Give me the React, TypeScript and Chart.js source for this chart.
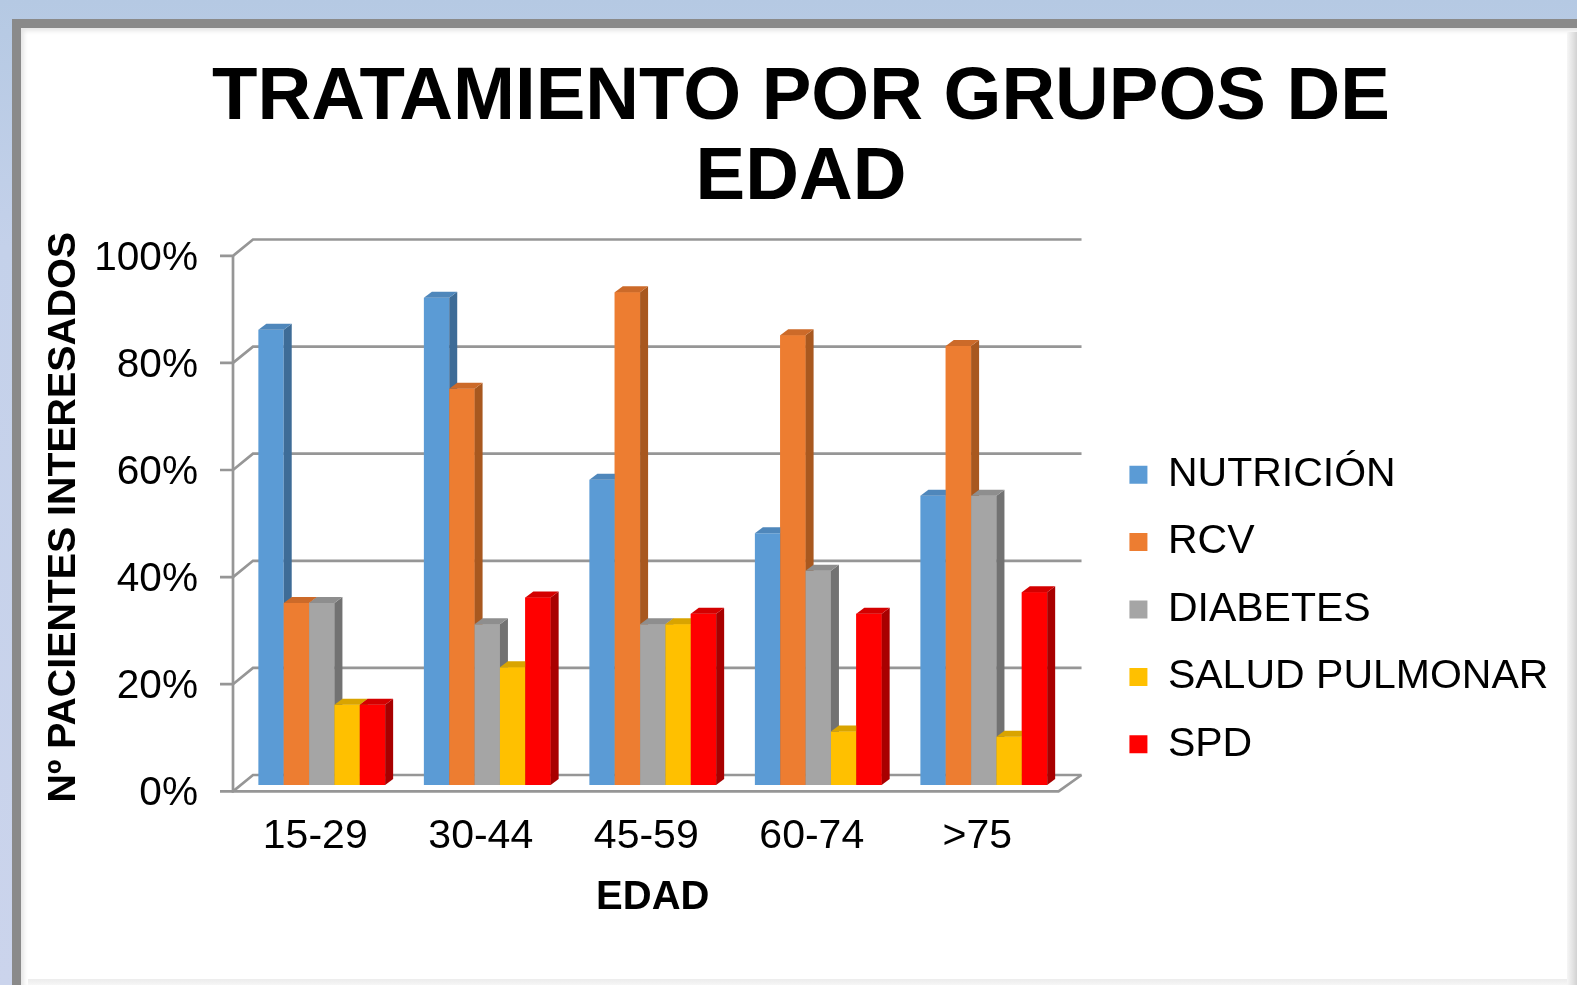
import React, { useEffect, useRef } from 'react';
import { Chart, registerables } from 'chart.js';

Chart.register(...registerables);

// ---------- data ----------
const categories = ['15-29', '30-44', '45-59', '60-74', '>75'];
const seriesNames = ['NUTRICIÓN', 'RCV', 'DIABETES', 'SALUD PULMONAR', 'SPD'];
const nutricion = [85, 91, 57, 47, 54];
const rcv = [34, 74, 92, 84, 82];
const diabetes = [34, 30, 30, 40, 54];
const saludPulmonar = [15, 22, 30, 10, 9];
const spd = [15, 35, 32, 32, 36];
const yTicks = [0, 20, 40, 60, 80, 100];
const titleLines = ['TRATAMIENTO POR GRUPOS DE', 'EDAD'];
const yTitle = 'Nº PACIENTES INTERESADOS';
const xTitle = 'EDAD';

// ---------- styles ----------
const FONT = '"Liberation Sans", Arial, sans-serif';
const FRONT = ['#5B9BD5', '#ED7D31', '#A5A5A5', '#FFC000', '#FF0000'];
const SIDE = ['#3E6C97', '#A8581F', '#727272', '#B38700', '#A80000'];
const TOP = ['#4F87BB', '#CC6A29', '#8E8E8E', '#D9A400', '#D40000'];
const DX = 8;
const DY = -6;

const box3d = {
  id: 'box3d',
  beforeDatasetsDraw(chart: any) {
    const { ctx, chartArea: a, scales } = chart;
    const y = scales.y;
    const fL = a.left - 6;
    const fR = a.right - 8;
    const bL = a.left + 14;
    const bR = a.right + 15;
    ctx.save();
    ctx.strokeStyle = '#969696';
    ctx.lineWidth = 2.7;
    ctx.lineJoin = 'miter';
    for (const v of yTicks) {
      const p = y.getPixelForValue(v);
      const yf = p + 6.3;
      const yb = p - 10;
      ctx.beginPath();
      ctx.moveTo(fL - 13, yf);
      ctx.lineTo(fL, yf);
      ctx.lineTo(bL, yb);
      ctx.lineTo(bR, yb);
      ctx.stroke();
    }
    const yf0 = y.getPixelForValue(0) + 6.3;
    const yf100 = y.getPixelForValue(100) + 6.3;
    const yb0 = y.getPixelForValue(0) - 10;
    ctx.beginPath();
    ctx.moveTo(fL, yf100);
    ctx.lineTo(fL, yf0);
    ctx.lineTo(fR, yf0);
    ctx.lineTo(bR, yb0);
    ctx.stroke();
    ctx.restore();
  },
  afterDatasetsDraw(chart: any) {
    const { ctx } = chart;
    const metas = chart.data.datasets.map((_: any, i: number) => chart.getDatasetMeta(i));
    const n = chart.data.labels.length;
    ctx.save();
    for (let j = 0; j < n; j++) {
      for (let i = 0; i < metas.length; i++) {
        const el = metas[i].data[j];
        if (!el) continue;
        if (i > 0) el.draw(ctx);
        const { x, y, base, width } = el.getProps(['x', 'y', 'base', 'width'], true);
        const l = x - width / 2;
        const r = x + width / 2;
        ctx.fillStyle = SIDE[i];
        ctx.beginPath();
        ctx.moveTo(r, y);
        ctx.lineTo(r + DX, y + DY);
        ctx.lineTo(r + DX, base + DY);
        ctx.lineTo(r, base);
        ctx.closePath();
        ctx.fill();
        ctx.fillStyle = TOP[i];
        ctx.beginPath();
        ctx.moveTo(l, y);
        ctx.lineTo(l + DX, y + DY);
        ctx.lineTo(r + DX, y + DY);
        ctx.lineTo(r, y);
        ctx.closePath();
        ctx.fill();
      }
    }
    ctx.restore();
  },
};

export default function App() {
  const ref = useRef<HTMLCanvasElement | null>(null);

  useEffect(() => {
    if (!ref.current) return;
    const seriesValues = [nutricion, rcv, diabetes, saludPulmonar, spd];
    const chart = new Chart(ref.current, {
      type: 'bar',
      data: {
        labels: categories,
        datasets: seriesNames.map((name, i) => ({
          label: name,
          data: seriesValues[i],
          backgroundColor: FRONT[i],
          borderWidth: 0,
          categoryPercentage: 0.766,
          barPercentage: 1,
          yAxisID: 'y',
        })),
      },
      options: {
        responsive: false,
        animation: false,
        devicePixelRatio: 1,
        layout: { padding: { top: 10, left: 43.6, right: 18.6, bottom: 60 } },
        plugins: {
          title: {
            display: true,
            text: titleLines,
            color: '#000',
            font: { family: FONT, size: 74.4, weight: 'bold', lineHeight: 80.5 / 74.4 },
            padding: { top: 47.75, bottom: 30.75 },
          },
          legend: {
            display: true,
            position: 'right',
            align: 'end',
            fullSize: false,
            maxWidth: 700,
            labels: {
              boxWidth: 18,
              boxHeight: 18,
              padding: 20.2,
              color: '#000',
              font: { family: FONT, size: 41, lineHeight: 47.2 / 41 },
              sort: (a: any, b: any) => a.datasetIndex - b.datasetIndex,
              generateLabels: (c: any) => {
                const items = (Chart as any).defaults.plugins.legend.labels.generateLabels(c);
                return items.map((it: any, k: number) =>
                  k < items.length - 1 ? { ...it, text: [it.text] } : it
                );
              },
            },
          },
          tooltip: { enabled: false },
        },
        scales: {
          x: {
            grid: { display: false, drawTicks: false },
            border: { display: false },
            ticks: {
              color: '#000',
              font: { family: FONT, size: 41 },
              padding: 27,
              labelOffset: -6.5,
              maxRotation: 0,
              autoSkip: false,
            },
            title: {
              display: true,
              text: xTitle,
              color: '#000',
              font: { family: FONT, size: 40, weight: 'bold', lineHeight: 1.2 },
              padding: { top: 0, bottom: 3 },
            },
            afterFit(s: any) {
              s.height = 140;
            },
          },
          y: {
            min: 0,
            max: 100,
            grid: { display: false, drawTicks: false },
            border: { display: false },
            ticks: {
              stepSize: 20,
              color: '#000',
              font: { family: FONT, size: 40.6 },
              padding: 41,
              labelOffset: 9.3,
              callback: (v: any) => v + '%',
            },
            title: {
              display: true,
              text: yTitle,
              color: '#000',
              font: { family: FONT, size: 39.3, weight: 'bold', lineHeight: 0.9 },
              padding: { top: 3.15, bottom: 0 },
            },
            afterFit(s: any) {
              s.width = 195.4;
            },
          },
          yR: {
            type: 'linear',
            position: 'right',
            display: true,
            grid: { display: false, drawTicks: false },
            border: { display: false },
            ticks: { display: false },
            afterFit(s: any) {
              s.width = 42.7;
            },
          },
        },
      } as any,
      plugins: [box3d],
    });
    return () => chart.destroy();
  }, []);

  return (
    <div
      style={{
        position: 'fixed',
        left: 0,
        top: 0,
        width: 1577,
        height: 985,
        overflow: 'hidden',
        background: 'linear-gradient(180deg, #b5c9e3 0%, #c4d1ea 25%, #cbd4ec 100%)',
      }}
    >
      <div style={{ position: 'absolute', left: 12, top: 19, right: -20, bottom: -20, background: '#8a8a8a' }} />
      <div
        style={{
          position: 'absolute',
          left: 21,
          top: 28,
          right: 0,
          bottom: 0,
          background: '#ffffff',
          boxShadow: 'inset 3px 3px 4px rgba(0,0,0,0.10)',
        }}
      />
      <div
        style={{
          position: 'absolute',
          left: 1567,
          top: 32,
          width: 10,
          bottom: 0,
          background: 'linear-gradient(90deg, #f6f6f6 0%, #e2e2e2 60%, #d2d2d2 100%)',
        }}
      />
      <div
        style={{
          position: 'absolute',
          left: 28,
          top: 979,
          right: 10,
          height: 6,
          background: 'linear-gradient(180deg, #ececec 0%, #f6f6f6 100%)',
        }}
      />
      <canvas
        ref={ref}
        width={1577}
        height={985}
        style={{ position: 'absolute', left: 0, top: 0, display: 'block' }}
      />
    </div>
  );
}
